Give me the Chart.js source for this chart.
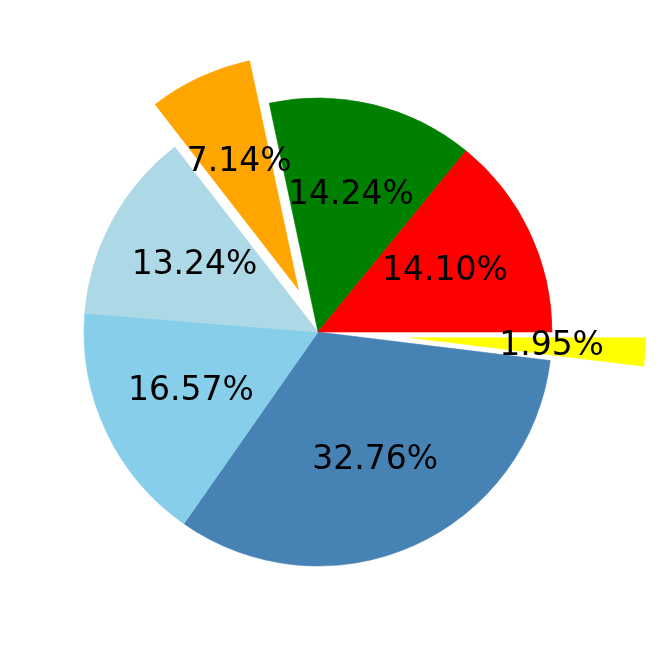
<!DOCTYPE html>
<html>
<head>
<meta charset="utf-8">
<script src="https://cdn.jsdelivr.net/npm/chart.js@4"></script>
<style>
html,body{margin:0;padding:0;background:#fff;}
#wrap{width:664px;height:664px;}
</style>
</head>
<body>
<div id="wrap"><canvas id="c" width="664" height="664"></canvas></div>
<script>
// Slices in matplotlib order (counter-clockwise from 3 o'clock)
const categories = ['Red', 'Green', 'Orange', 'LightBlue', 'SkyBlue', 'SteelBlue', 'Yellow'];
const values = [14.10, 14.24, 7.14, 13.24, 16.57, 32.76, 1.95];
const colors = ['#ff0000', '#008000', '#ffa500', '#add8e6', '#87ceeb', '#4682b4', '#ffff00'];
const explode = [0, 0, 0.2, 0, 0, 0, 0.4];

const RADIUS = 234;
// Chart.js draws clockwise from the top; reverse to mimic counter-clockwise order
const rLabels = categories.slice().reverse();
const rValues = values.slice().reverse();
const rColors = colors.slice().reverse();
const rExplode = explode.slice().reverse();

// Move exploded wedges outward along their bisector (matplotlib-style explode)
const explodePlugin = {
  id: 'explode',
  afterDatasetUpdate(chart, args) {
    const meta = chart.getDatasetMeta(args.index);
    meta.data.forEach((arc, i) => {
      const shift = rExplode[i] * arc.outerRadius;
      if (!shift) return;
      const mid = (arc.startAngle + arc.endAngle) / 2;
      arc.x += Math.cos(mid) * shift;
      arc.y += Math.sin(mid) * shift;
    });
  }
};

const labelPlugin = {
  id: 'pctLabels',
  afterDatasetsDraw(chart) {
    const ctx = chart.ctx;
    const meta = chart.getDatasetMeta(0);
    const total = rValues.reduce((a, b) => a + b, 0);
    ctx.save();
    ctx.font = '33px "DejaVu Sans"';
    ctx.fillStyle = '#000';
    ctx.textAlign = 'center';
    ctx.textBaseline = 'middle';
    meta.data.forEach((arc, i) => {
      const p = arc.getProps(['x', 'y', 'startAngle', 'endAngle', 'outerRadius'], true);
      const mid = (p.startAngle + p.endAngle) / 2;
      const d = 0.6 * p.outerRadius;
      const x = p.x + Math.cos(mid) * d;
      const y = p.y + Math.sin(mid) * d;
      ctx.fillText((rValues[i] / total * 100).toFixed(2) + '%', x, y);
    });
    ctx.restore();
  }
};

new Chart(document.getElementById('c'), {
  type: 'pie',
  data: {
    labels: rLabels,
    datasets: [{
      data: rValues,
      backgroundColor: rColors,
      borderColor: rColors,
      borderWidth: 0.6,
      offset: 0,
      hoverOffset: 0
    }]
  },
  options: {
    responsive: false,
    animation: false,
    rotation: 90,
    radius: RADIUS,
    layout: { padding: { left: 0, right: 28, top: 0, bottom: 0 } },
    plugins: { legend: { display: false }, tooltip: { enabled: false } }
  },
  plugins: [explodePlugin, labelPlugin]
});
</script>
</body>
</html>
